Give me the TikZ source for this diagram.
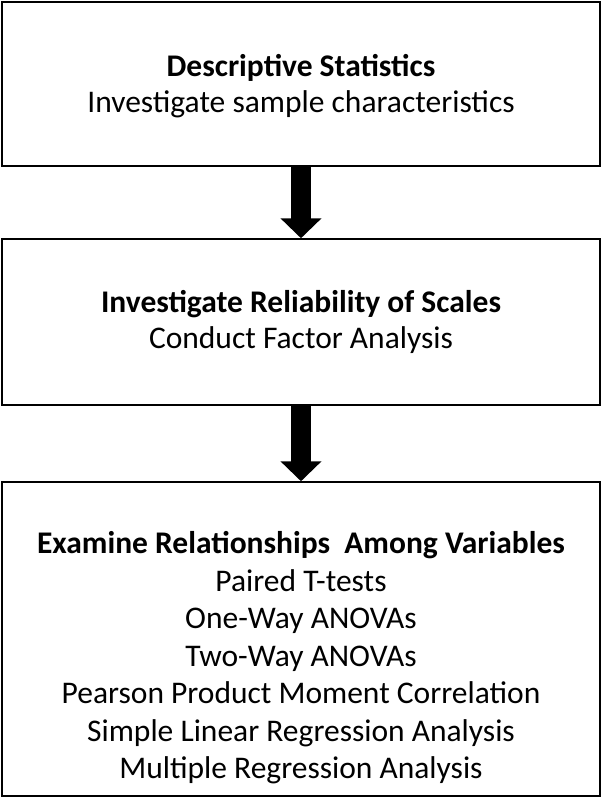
\documentclass[tikz,border=0pt]{standalone}
\usepackage{fontspec}
\setmainfont{Carlito}
\usetikzlibrary{arrows.meta}
\tikzset{
  every picture/.style={line join=miter, >=Stealth},
  stagebox/.style={draw, line width=1.5pt, minimum width=598pt, inner sep=0pt},
  stagetext/.style={align=center, font=\fontsize{31.5}{36}\selectfont},
  blockarrow/.style={line width=20pt, -{Triangle[width=40pt,length=20pt]}},
}
\begin{document}
\begin{tikzpicture}[x=1pt,y=-1pt]
\useasboundingbox (0,0) rectangle (603,798);
% boxes
\node[stagebox, minimum height=164pt] (descr) at (301,84) {};
\node[stagebox, minimum height=166pt] (relia) at (301,322) {};
\node[stagebox, minimum height=314pt] (exam) at (301,639) {};
% texts
\node[stagetext] (descrtxt) at ([yshift=-2pt]descr.center)
  {\textbf{Descriptive Statistics}\\Investigate sample characteristics};
\node[stagetext] (reliatxt) at (relia.center)
  {\textbf{Investigate Reliability of Scales}\\Conduct Factor Analysis};
\node[stagetext, font=\fontsize{31.5}{37.5}\selectfont] (examtxt) at ([yshift=-19pt]exam.center)
  {\textbf{Examine Relationships\ \ Among Variables}\\Paired T-tests\\One-Way ANOVAs\\Two-Way ANOVAs\\
   Pearson Product Moment Correlation\\Simple Linear Regression Analysis\\Multiple Regression Analysis};
% arrows
\draw[blockarrow] (descr.south) -- (relia.north);
\draw[blockarrow] (relia.south) -- (exam.north);
\end{tikzpicture}
\end{document}
